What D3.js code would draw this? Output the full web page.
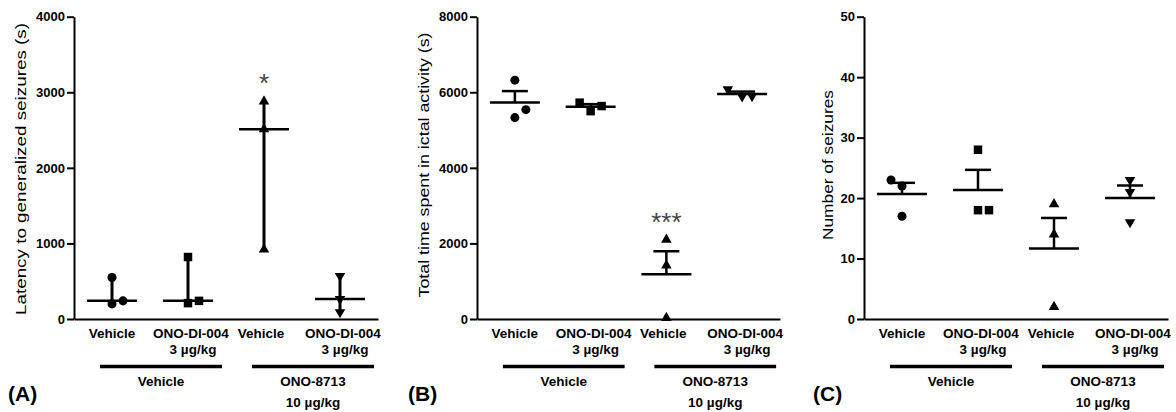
<!DOCTYPE html>
<html lang="en">
<head>
<meta charset="UTF-8">
<title>Seizure outcomes</title>
<script src="https://cdn.jsdelivr.net/npm/d3@7"></script>
<style>
  body { margin: 0; background: #fff; }
  svg { display: block; font-family: Arial, "Liberation Sans", sans-serif; }
  .axis path, .axis line { stroke: #000; stroke-width: 2px; }
  .axis text { font-size: 13px; font-weight: bold; fill: #000; font-family: Arial, "Liberation Sans", sans-serif; }
  .xlab { font-size: 13.5px; font-weight: bold; }
  .ylab { font-size: 15px; }
  .tag { font-size: 21px; font-weight: bold; }
  .sig { font-size: 26px; fill: #444; }
</style>
</head>
<body>
<svg width="1176" height="412"></svg>
<script>
// groups, same in every panel
const groupNames = ["Vehicle", "ONO-DI-004", "Vehicle", "ONO-DI-004"];
const groupDose = ["", "3 µg/kg", "", "3 µg/kg"];
const pretreat = ["Vehicle", "ONO-8713"];
const pretreatDose = ["", "10 µg/kg"];

// (A) latency to generalized seizures, median + range
const latency = [[550, 200, 240], [820, 210, 240], [2880, 2510, 920], [570, 265, 90]];
const latencySpread = [[0, 0, 1], [0, 0, 1], [0, 0, 0], [0, 0, 0]];
const latencySig = ["", "", "*", ""];
const latencyTicks = [0, 1000, 2000, 3000, 4000];

// (B) total time in ictal activity, mean + SEM
const ictalTime = [[6320, 5330, 5540], [5725, 5500, 5635], [2100, 1420, 30], [6080, 5890, 5900]];
const ictalSpread = [[0, 0, 1], [-1, 0, 1], [0, 0, 0], [-1.3, 0, 0.9]];
const ictalSig = ["", "", "***", ""];
const ictalTicks = [0, 2000, 4000, 6000, 8000];

// (C) number of seizures, mean + SEM
const seizureCount = [[23, 22, 17], [28, 18, 18], [19, 14, 2], [23, 21, 16]];
const seizureSpread = [[-1, 0, 0], [0, 0, 1], [0, 0, 0], [0, 0, 0]];
const seizureSig = ["", "", "", ""];
const seizureTicks = [0, 10, 20, 30, 40, 50];

const panels = [
  { tag: "(A)", title: "Latency to generalized seizures (s)", values: latency, spread: latencySpread,
    sig: latencySig, ticks: latencyTicks, stat: "median", left: 74, right: 378,
    titleX: 26, titleY: 169, titleLen: 292, tagX: 8 },
  { tag: "(B)", title: "Total time spent in ictal activity (s)", values: ictalTime, spread: ictalSpread,
    sig: ictalSig, ticks: ictalTicks, stat: "mean", left: 477, right: 780,
    titleX: 429, titleY: 165, titleLen: 265, tagX: 408 },
  { tag: "(C)", title: "Number of seizures", values: seizureCount, spread: seizureSpread,
    sig: seizureSig, ticks: seizureTicks, stat: "mean", left: 864, right: 1168,
    titleX: 833, titleY: 165, titleLen: 150, tagX: 813 }
];

const symbols = [d3.symbolCircle, d3.symbolSquare, d3.symbolTriangle, d3.symbolTriangle];
const symbolSize = [64, 72, 48, 48];
const labelNudge = [0, 3, -3, 3];

const plotTop = 16.7, plotBottom = 319;
const svg = d3.select("svg");

panels.forEach(p => {
  const g = svg.append("g");
  const x = d3.scaleBand().domain(d3.range(groupNames.length)).range([p.left, p.right]);
  const y = d3.scaleLinear().domain(d3.extent(p.ticks)).range([plotBottom, plotTop]);
  const cx = i => x(i) + x.bandwidth() / 2;

  // axes
  g.append("g").attr("class", "axis")
    .attr("transform", `translate(${p.left},0)`)
    .call(d3.axisLeft(y).tickValues(p.ticks).tickSize(7).tickSizeOuter(0).tickPadding(2).tickFormat(d3.format("d")));
  g.append("g").attr("class", "axis")
    .attr("transform", `translate(0,${plotBottom})`)
    .call(d3.axisBottom(x).tickSize(0).tickSizeOuter(0).tickFormat(""));

  // y title
  g.append("text").attr("class", "ylab")
    .attr("transform", `translate(${p.titleX},${p.titleY}) rotate(-90)`)
    .attr("text-anchor", "middle")
    .attr("textLength", p.titleLen)
    .attr("lengthAdjust", "spacingAndGlyphs")
    .text(p.title);

  // stats + points
  p.values.forEach((vals, i) => {
    const c = cx(i);
    if (p.stat === "median") {
      const [lo, hi] = d3.extent(vals);
      const m = d3.median(vals);
      g.append("line").attr("x1", c).attr("x2", c).attr("y1", y(lo)).attr("y2", y(hi))
        .attr("stroke", "#000").attr("stroke-width", 3);
      g.append("line").attr("x1", c - 25).attr("x2", c + 25).attr("y1", y(m)).attr("y2", y(m))
        .attr("stroke", "#000").attr("stroke-width", 2.5);
    } else {
      const m = d3.mean(vals);
      const sem = d3.deviation(vals) / Math.sqrt(vals.length);
      g.append("line").attr("x1", c).attr("x2", c).attr("y1", y(m)).attr("y2", y(m + sem))
        .attr("stroke", "#000").attr("stroke-width", 2.5);
      g.append("line").attr("x1", c - 13).attr("x2", c + 13).attr("y1", y(m + sem)).attr("y2", y(m + sem))
        .attr("stroke", "#000").attr("stroke-width", 2.5);
      g.append("line").attr("x1", c - 25).attr("x2", c + 25).attr("y1", y(m)).attr("y2", y(m))
        .attr("stroke", "#000").attr("stroke-width", 2.5);
    }

    g.selectAll(null)
      .data(vals)
      .enter().append("path")
      .attr("d", d3.symbol(symbols[i], symbolSize[i]))
      .attr("transform", (v, j) => `translate(${c + p.spread[i][j] * 11},${y(v)})` + (i === 3 ? " rotate(180)" : ""))
      .attr("fill", "#000");

    if (p.sig[i]) {
      g.append("text").attr("class", "sig")
        .attr("x", c).attr("y", y(d3.max(vals)) - 9)
        .attr("text-anchor", "middle")
        .text(p.sig[i]);
    }
  });

  // x labels
  groupNames.forEach((t, i) => {
    g.append("text").attr("class", "xlab")
      .attr("x", cx(i) + labelNudge[i]).attr("y", 338)
      .attr("text-anchor", "middle").text(t);
    if (groupDose[i]) {
      g.append("text").attr("class", "xlab")
        .attr("x", cx(i) + labelNudge[i] + 2).attr("y", 354)
        .attr("text-anchor", "middle").text(groupDose[i]);
    }
  });

  // pretreatment bars
  pretreat.forEach((t, k) => {
    const x1 = cx(2 * k) - 12, x2 = cx(2 * k + 1) + 34;
    g.append("line").attr("x1", x1).attr("x2", x2).attr("y1", 366.5).attr("y2", 366.5)
      .attr("stroke", "#000").attr("stroke-width", 3.5);
    g.append("text").attr("class", "xlab")
      .attr("x", (x1 + x2) / 2).attr("y", 386)
      .attr("text-anchor", "middle").text(t);
    if (pretreatDose[k]) {
      g.append("text").attr("class", "xlab")
        .attr("x", (x1 + x2) / 2).attr("y", 407)
        .attr("text-anchor", "middle").text(pretreatDose[k]);
    }
  });

  g.append("text").attr("class", "tag")
    .attr("x", p.tagX).attr("y", 401)
    .text(p.tag);
});
</script>
</body>
</html>
